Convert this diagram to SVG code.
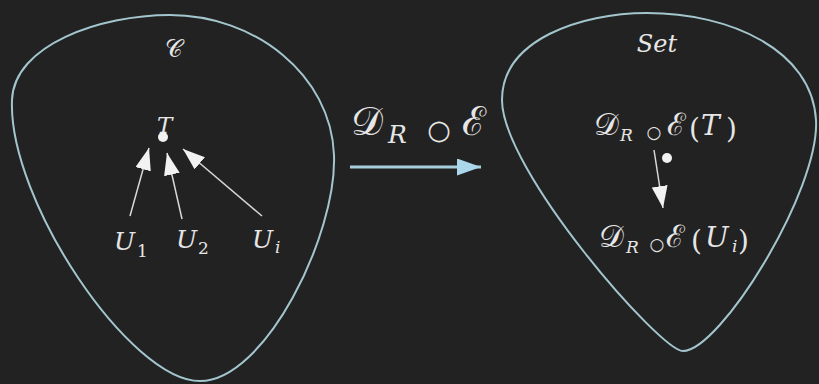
<svg xmlns="http://www.w3.org/2000/svg" width="819" height="384" viewBox="0 0 819 384">
<defs>
<style>
.bg{fill:#222222}
.blob{fill:none;stroke:#a3c6ce;stroke-width:2}
text{fill:#e6e6e6}
.t{font-family:'DejaVu Serif',serif;font-style:italic}
.up{font-family:'DejaVu Serif',serif;font-style:normal}
.cal{font-family:'DejaVu Serif',serif;font-style:normal}
.op{font-family:'DejaVu Sans',sans-serif;font-style:normal}
.edge{stroke:#d8d8d8;stroke-width:1.5;fill:none}
.main{stroke:#a6cfdd;stroke-width:3;fill:none}
</style>
<marker id="wh" viewBox="0 0 22 16" refX="22" refY="8" markerWidth="22" markerHeight="16" markerUnits="userSpaceOnUse" orient="auto">
<path d="M0,0 L22,8 L0,16 Z" fill="#f2f2f2"/>
</marker>
<marker id="bl" viewBox="0 0 24 17" refX="24" refY="8.5" markerWidth="24" markerHeight="17" markerUnits="userSpaceOnUse" orient="auto">
<path d="M0,0 L24,8.5 L0,17 Z" fill="#aad8ea"/>
</marker>
</defs>
<rect class="bg" x="0" y="0" width="819" height="384"/>

<g id="cat-C">
<path class="blob" d="M170,15 C255,15 331,75 334,155 C337,235 265,381 200,381 C130,381 8,200 12,100 C14,45 100,15 170,15 Z"/>
<text class="cal" x="174" y="57" font-size="24" text-anchor="middle">𝒞</text>
</g>

<g id="cat-Set">
<path class="blob" d="M647,13 C730,13 812,50 816,120 C820,190 720,351 683,351 C660,351 502,170 502,100 C502,40 580,13 647,13 Z"/>
<text class="t" x="657" y="52" font-size="24" text-anchor="middle">Set</text>
</g>

<g id="node-T">
<text class="t" x="157" y="133" font-size="23">T</text>
<circle cx="163" cy="137" r="5" fill="#f2f2f2"/>
</g>
<g id="node-U1">
<text class="t" x="114" y="250" font-size="25">U</text>
<text class="up" x="137" y="257" font-size="17">1</text>
</g>
<g id="node-U2">
<text class="t" x="176" y="248" font-size="25">U</text>
<text class="up" x="198" y="254" font-size="17">2</text>
</g>
<g id="node-Ui">
<text class="t" x="252" y="248" font-size="25">U</text>
<text class="t" x="275" y="253" font-size="17">i</text>
</g>

<g id="node-DET">
<text class="cal" x="594" y="135" font-size="31">𝒟</text>
<text class="t" x="620" y="141" font-size="17">R</text>
<text class="op" x="654" y="138" font-size="17" text-anchor="middle">○</text>
<text class="cal" x="667" y="135" font-size="31">ℰ</text>
<text class="up" x="689" y="138" font-size="28">(</text>
<text class="t" x="701" y="135" font-size="28">T</text>
<text class="up" x="726" y="138" font-size="28">)</text>
<circle cx="667" cy="158" r="5" fill="#f2f2f2"/>
</g>

<g id="node-DEUi">
<text class="cal" x="599" y="247" font-size="31">𝒟</text>
<text class="t" x="626" y="253" font-size="17">R</text>
<text class="op" x="657" y="250" font-size="17" text-anchor="middle">○</text>
<text class="cal" x="666" y="247" font-size="31">ℰ</text>
<text class="up" x="691" y="250" font-size="28">(</text>
<text class="t" x="705" y="247" font-size="28">U</text>
<text class="t" x="732" y="252" font-size="17">i</text>
<text class="up" x="738" y="250" font-size="28">)</text>
</g>

<g id="label-functor">
<text class="cal" x="351" y="135" font-size="40">𝒟</text>
<text class="t" x="388" y="143" font-size="25">R</text>
<text class="op" x="439" y="139" font-size="27" text-anchor="middle">○</text>
<text class="cal" x="462" y="135" font-size="40">ℰ</text>
</g>

<g id="connectors">
<line class="edge" x1="130" y1="216" x2="149" y2="148" marker-end="url(#wh)"/>
<line class="edge" x1="182" y1="219" x2="167" y2="153" marker-end="url(#wh)"/>
<line class="edge" x1="262" y1="216" x2="183" y2="149" marker-end="url(#wh)"/>
<line class="edge" x1="654" y1="150" x2="663" y2="208" marker-end="url(#wh)"/>
<line class="main" x1="350" y1="167" x2="481" y2="167" marker-end="url(#bl)"/>
</g>
</svg>
